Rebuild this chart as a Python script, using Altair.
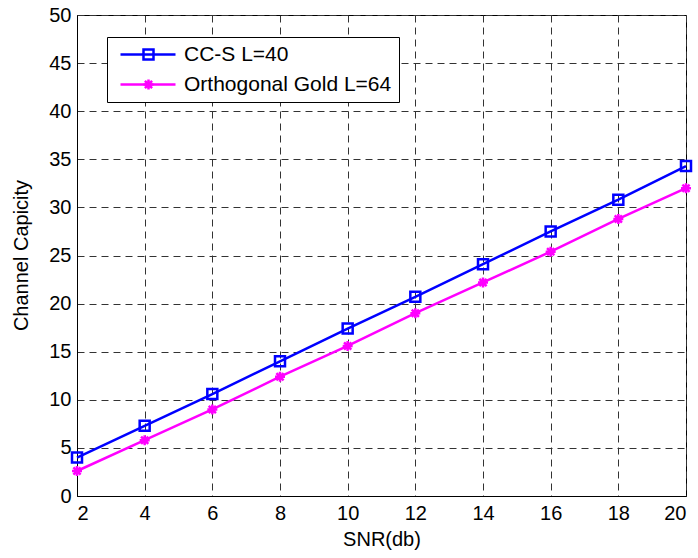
import altair as alt
import pandas as pd

snr = [2, 4, 6, 8, 10, 12, 14, 16, 18, 20]
ccs = [4.0, 7.3, 10.6, 14.0, 17.4, 20.7, 24.1, 27.5, 30.8, 34.3]
gold = [2.6, 5.8, 9.0, 12.4, 15.6, 19.0, 22.2, 25.4, 28.8, 32.0]
names = ["CC-S L=40", "Orthogonal Gold L=64"]
colors = ["#0000FF", "#FF00FF"]
y_ticks = [0, 5, 10, 15, 20, 25, 30, 35, 40, 45, 50]

ASTERISK = "M-1,0L1,0M0,-1L0,1M-0.72,-0.72L0.72,0.72M-0.72,0.72L0.72,-0.72"

df = pd.DataFrame({
    "snr": snr + snr,
    "cap": ccs + gold,
    "series": [names[0]] * len(snr) + [names[1]] * len(snr),
})
df["marker"] = df["series"]

FONT = "Liberation Sans"

x = alt.X("snr:Q", scale=alt.Scale(domain=[2, 20], nice=False, zero=False),
          axis=alt.Axis(values=snr, title="SNR(db)"))
y = alt.Y("cap:Q", scale=alt.Scale(domain=[0, 50], nice=False),
          axis=alt.Axis(values=y_ticks, title="Channel Capicity",
                        titleX=-56, titleY=240, titleBaseline="middle", titleAlign="center"))

line_legend = alt.Legend(
    orient="none", legendX=30, legendY=22, title=None,
    fillColor="white", strokeColor="black", padding=7, symbolOffset=5,
    symbolType="stroke", symbolSize=3025, symbolStrokeWidth=2.5,
    labelFont=FONT, labelFontSize=21, labelColor="black", labelOffset=7,
    labelLimit=400, rowPadding=8, clipHeight=21, zindex=1,
)
marker_legend = alt.Legend(
    orient="none", legendX=49, legendY=22, title=None,
    padding=7, symbolOffset=5, symbolSize=100, symbolStrokeWidth=2.5,
    symbolFillColor="transparent",
    labelFont=FONT, labelFontSize=21, labelColor="transparent", labelOffset=7,
    labelExpr="''", labelLimit=400, rowPadding=8, clipHeight=21, zindex=2,
)

line = alt.Chart(df).mark_line(strokeWidth=2.5).encode(
    x=x, y=y,
    color=alt.Color("series:N", scale=alt.Scale(domain=names, range=colors),
                    legend=line_legend),
)

pts = alt.Chart(df).mark_point(filled=False, strokeWidth=2.5, size=100, opacity=1).encode(
    x=x, y=y,
    stroke=alt.Stroke("marker:N", scale=alt.Scale(range=colors),
                      legend=marker_legend),
    shape=alt.Shape("marker:N", scale=alt.Scale(range=["square", ASTERISK]),
                    legend=marker_legend),
)

chart = alt.layer(line, pts).properties(
    width=609, height=481,
    autosize=alt.AutoSizeParams(type="none"),
    padding={"left": 77, "top": 15, "right": 12, "bottom": 62},
    background="white",
).configure_view(
    stroke="black", strokeWidth=1,
).configure_axis(
    grid=True, gridColor="#333333", gridDash=[7, 5], gridWidth=1, gridOpacity=1,
    domain=True, domainColor="black", domainWidth=1,
    ticks=False,
    labelFont=FONT, labelFontSize=20, labelColor="black", labelPadding=6,
    titleFont=FONT, titleFontSize=20, titleColor="black", titleFontWeight="normal",
).configure_axisX(
    labelPadding=7, titlePadding=6,
)

chart.save("out.html", embed_options={"renderer": "svg", "actions": False})
